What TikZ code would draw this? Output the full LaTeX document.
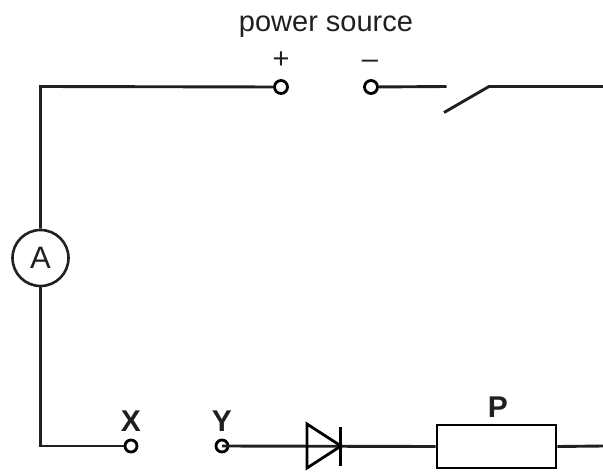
\documentclass[tikz,border=0pt]{standalone}
\usepackage{fontspec}
\setmainfont{Liberation Sans}
\definecolor{ink}{HTML}{231F20}
\tikzset{
  wire/.style={draw=ink,line width=2.9pt},
  terminal/.style={circle,draw=black,line width=2.8pt,fill=white,inner sep=0pt,minimum size=#1},
  lab/.style={text=ink,inner sep=0pt,font=\fontsize{29}{29}\selectfont},
  blab/.style={text=ink,inner sep=0pt,font=\fontsize{30}{30}\selectfont\bfseries},
}
\begin{document}
\begin{tikzpicture}[x=1pt,y=-1pt]
\useasboundingbox (0,0) rectangle (603,472);
% corners and free ends
\coordinate (tl) at (40.5,86.5);
\coordinate (bl) at (40.5,446);
\coordinate (swa) at (446.5,86.5);
\coordinate (swb) at (444,112.5);
\coordinate (swc) at (489,86.5);
\coordinate (tr) at (603,86.5);
\coordinate (br) at (603,446);
% components
\node[circle,draw=ink,line width=2.6pt,fill=white,minimum size=56pt,inner sep=0pt] (amm) at (40.5,258) {};
\node[lab,font=\fontsize{31}{31}\selectfont] (ammlab) at (amm.center) {A};
\node[terminal=13pt] (plus) at (281,87) {};
\node[terminal=13pt] (minus) at (371,87) {};
\node[terminal=12pt] (x) at (131,446) {};
\node[terminal=12pt] (y) at (222,446) {};
\node[rectangle,draw=black,line width=2.8pt,fill=white,minimum width=119pt,minimum height=43pt,inner sep=0pt] (p) at (496.5,446.5) {};
% wires
\draw[wire,line join=miter] (plus) -- (tl) -- (amm);
\draw[wire,line join=miter] (amm) -- (bl) -- (x);
\draw[wire] (minus) -- (swa);
\draw[wire,line join=miter] (swb) -- (swc) -- (tr);
\draw[wire] (y.center) -- (p.west);
\draw[wire] (p.east) -- (br);
% diode
\draw[draw=black,line width=2.8pt,line join=miter] (307,424) -- (341,446) -- (307,468) -- cycle;
\draw[draw=black,line width=2.8pt] (340.5,427) -- (340.5,466);
% labels
\node[lab] (ps) at (326,26.5) {power source};
\node[lab] (pl) at (281,60) {+};
\node[lab] (mi) at (370,64) {–};
\node[blab] (xl) at (131,421.5) {X};
\node[blab] (yl) at (222,421.5) {Y};
\node[blab] (pn) at (498,407.5) {P};
\end{tikzpicture}
\end{document}
